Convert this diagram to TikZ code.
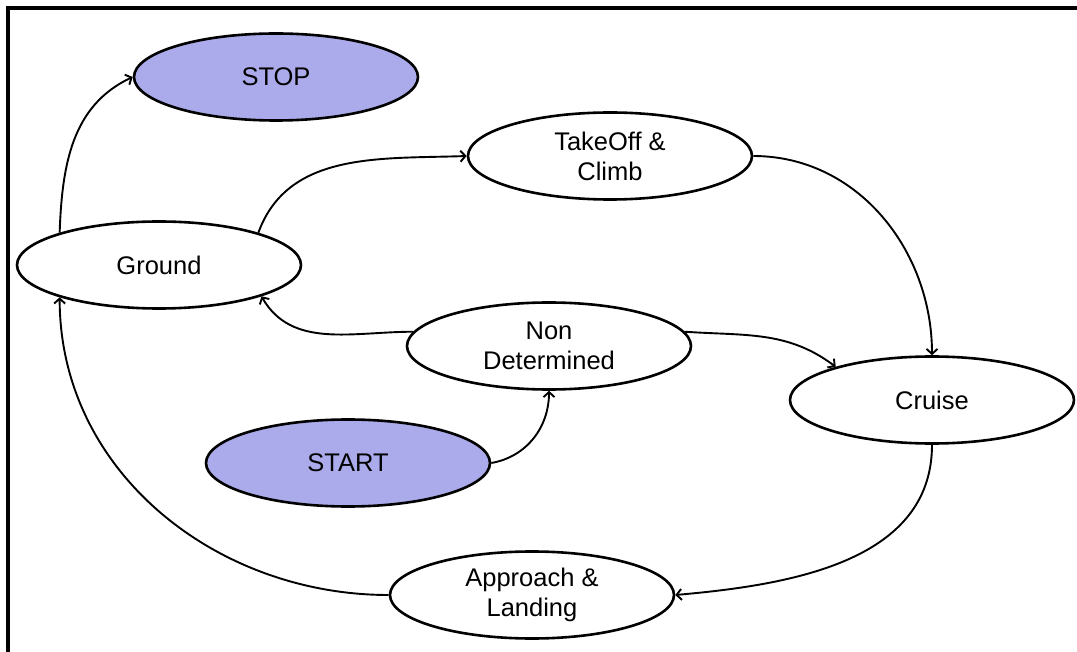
\documentclass[tikz,border=0pt]{standalone}
\usepackage{fontspec}
\setmainfont{Liberation Sans}
\usetikzlibrary{shapes.geometric,arrows.meta}
\definecolor{statefill}{RGB}{171,171,235}
\tikzset{
  state/.style={ellipse, draw=black, line width=2.6pt, minimum width=284pt,
    minimum height=87pt, inner sep=0pt, align=center,
    font=\fontsize{25.5}{30}\selectfont},
  terminal/.style={state, fill=statefill},
  link/.style={line width=1.9pt, -{Straight Barb[length=5pt,width=11pt]}}
}
\begin{document}
\begin{tikzpicture}[x=1pt,y=-1pt]
  \useasboundingbox (0,0) rectangle (1077,652);
  % frame
  \draw[line width=3.2pt] (8,652) -- (8,8) -- (1077,8);

  % states
  \node[terminal] (stop)     at (276,77)  {STOP};
  \node[state]    (takeoff)  at (610,156) {TakeOff \&\\Climb};
  \node[state]    (ground)   at (159,265) {Ground};
  \node[state]    (nondet)   at (549,346) {Non\\Determined};
  \node[state]    (cruise)   at (932,400) {Cruise};
  \node[terminal] (start)    at (348,463) {START};
  \node[state]    (approach) at (532,595) {Approach \&\\Landing};

  % transitions
  \draw[link] (ground.162) to[out=88,in=205] (stop.west);
  \draw[link] (ground.18) to[out=70,in=182] (takeoff.west);
  \draw[link] (takeoff.east) to[out=0,in=90] (cruise.north);
  \draw[link] (nondet.174) to[out=180,in=300] (ground.343);
  \draw[link] (nondet.6) to[out=-4,in=143] (cruise.161);
  \draw[link] (start.east) to[out=10,in=270] (nondet.south);
  \draw[link] (cruise.south) to[out=270,in=5] (approach.east);
  \draw[link] (approach.west) to[out=180,in=270] (ground.198);
\end{tikzpicture}
\end{document}
